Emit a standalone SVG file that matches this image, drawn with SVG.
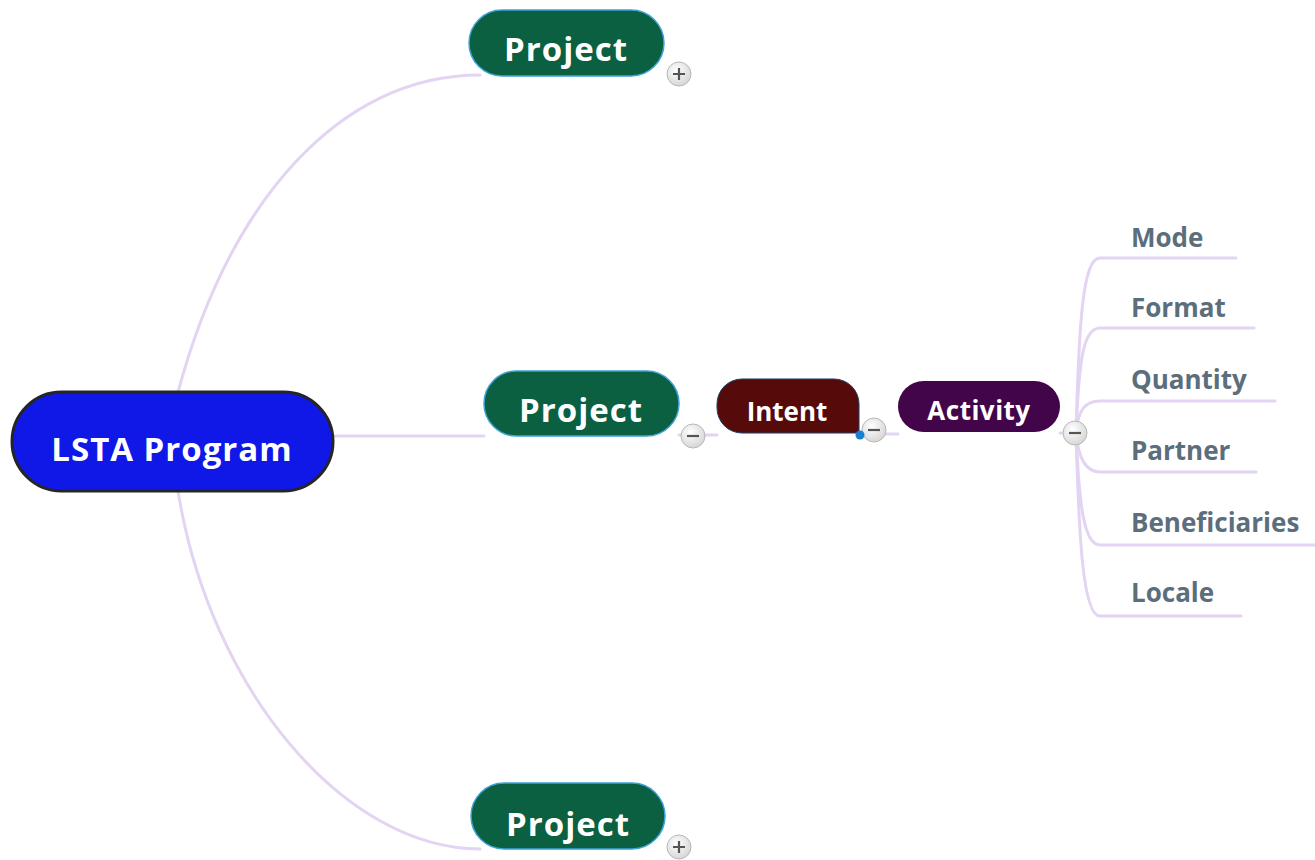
<svg xmlns="http://www.w3.org/2000/svg" width="1315" height="860" viewBox="0 0 1315 860">
<defs>
<style>
.conn{fill:none;stroke:#e2d4f2;stroke-width:3;stroke-linecap:round}
.proj{fill:#0a6040;stroke:#3fa3d6;stroke-width:1.5}
.t{font-family:"Open Sans","Noto Sans",sans-serif;font-weight:bold;fill:#ffffff;text-anchor:middle}
.leaf{font-family:"Open Sans","Noto Sans",sans-serif;font-weight:bold;fill:#5b6e7c;font-size:26px}
.exp{fill:url(#eg);stroke:#b8b8b8;stroke-width:1}
.sym{stroke:#555;stroke-width:2.2;stroke-linecap:butt}
</style>
<radialGradient id="eg" cx="0.4" cy="0.35" r="0.7">
<stop offset="0" stop-color="#ffffff"/>
<stop offset="1" stop-color="#d4d4d4"/>
</radialGradient>
</defs>
<rect width="1315" height="860" fill="#ffffff"/>
<g id="connectors">
<path class="conn" d="M178,392 C230,200 340,75 480,75"/>
<path class="conn" d="M178,491 C210,690 345,849 480,849"/>
<path class="conn" d="M333,436 H484"/>
<path class="conn" d="M679,435 H717"/>
<path class="conn" d="M859,434 H898"/>
<path class="conn" d="M1060,433 H1076"/>
<path class="conn" d="M1076,433 C1079,320 1083,258 1100,258 H1236"/>
<path class="conn" d="M1076,433 C1079,360 1083,328 1100,328 H1254"/>
<path class="conn" d="M1076,433 C1078,410 1085,401 1100,401 H1275"/>
<path class="conn" d="M1076,433 C1078,455 1085,472 1100,472 H1256"/>
<path class="conn" d="M1076,433 C1079,500 1083,545 1100,545 H1315"/>
<path class="conn" d="M1076,433 C1079,540 1083,616 1100,616 H1241"/>
</g>
<g id="lsta">
<rect x="12" y="392" width="321" height="99" rx="49.5" fill="#1018e8" stroke="#252525" stroke-width="3"/>
<text class="t" x="172" y="461" font-size="33" letter-spacing="1">LSTA Program</text>
</g>
<g id="project-top">
<rect class="proj" x="469" y="10" width="195" height="66" rx="33"/>
<text class="t" x="566" y="61" font-size="33" letter-spacing="1">Project</text>
<circle class="exp" cx="679" cy="74" r="12"/>
<path class="sym" d="M673,74 H685 M679,68 V80"/>
</g>
<g id="project-mid">
<rect class="proj" x="484" y="371" width="195" height="65" rx="32.5"/>
<text class="t" x="581" y="422" font-size="33" letter-spacing="1">Project</text>
<circle class="exp" cx="693" cy="436" r="12"/>
<path class="sym" d="M687,436 H699"/>
</g>
<g id="project-bottom">
<rect class="proj" x="471" y="783" width="194" height="66" rx="33"/>
<text class="t" x="568" y="836" font-size="33" letter-spacing="1">Project</text>
<circle class="exp" cx="679" cy="847" r="12"/>
<path class="sym" d="M673,847 H685 M679,841 V853"/>
</g>
<g id="intent">
<path d="M742,379 H834 A25,25 0 0 1 859,404 V433 H742 A25,25 0 0 1 717,408 V404 A25,25 0 0 1 742,379 Z" fill="#560a0a" stroke="#1d3f66" stroke-width="1"/>
<text class="t" x="787" y="421" font-size="26">Intent</text>
<circle class="exp" cx="874" cy="430" r="12"/>
<path class="sym" d="M868,430 H880"/>
<circle cx="860" cy="435" r="4.5" fill="#1a7fd0"/>
</g>
<g id="activity">
<rect x="898" y="381" width="162" height="51" rx="25.5" fill="#42054a"/>
<text class="t" x="979" y="420" font-size="26" letter-spacing="0.5">Activity</text>
<circle class="exp" cx="1075" cy="433" r="12"/>
<path class="sym" d="M1069,433 H1081"/>
</g>
<g id="mode"><text class="leaf" x="1131" y="247">Mode</text></g>
<g id="format"><text class="leaf" x="1131" y="317">Format</text></g>
<g id="quantity"><text class="leaf" x="1131" y="389">Quantity</text></g>
<g id="partner"><text class="leaf" x="1131" y="460">Partner</text></g>
<g id="beneficiaries"><text class="leaf" x="1131" y="532">Beneficiaries</text></g>
<g id="locale"><text class="leaf" x="1131" y="602">Locale</text></g>
</svg>
